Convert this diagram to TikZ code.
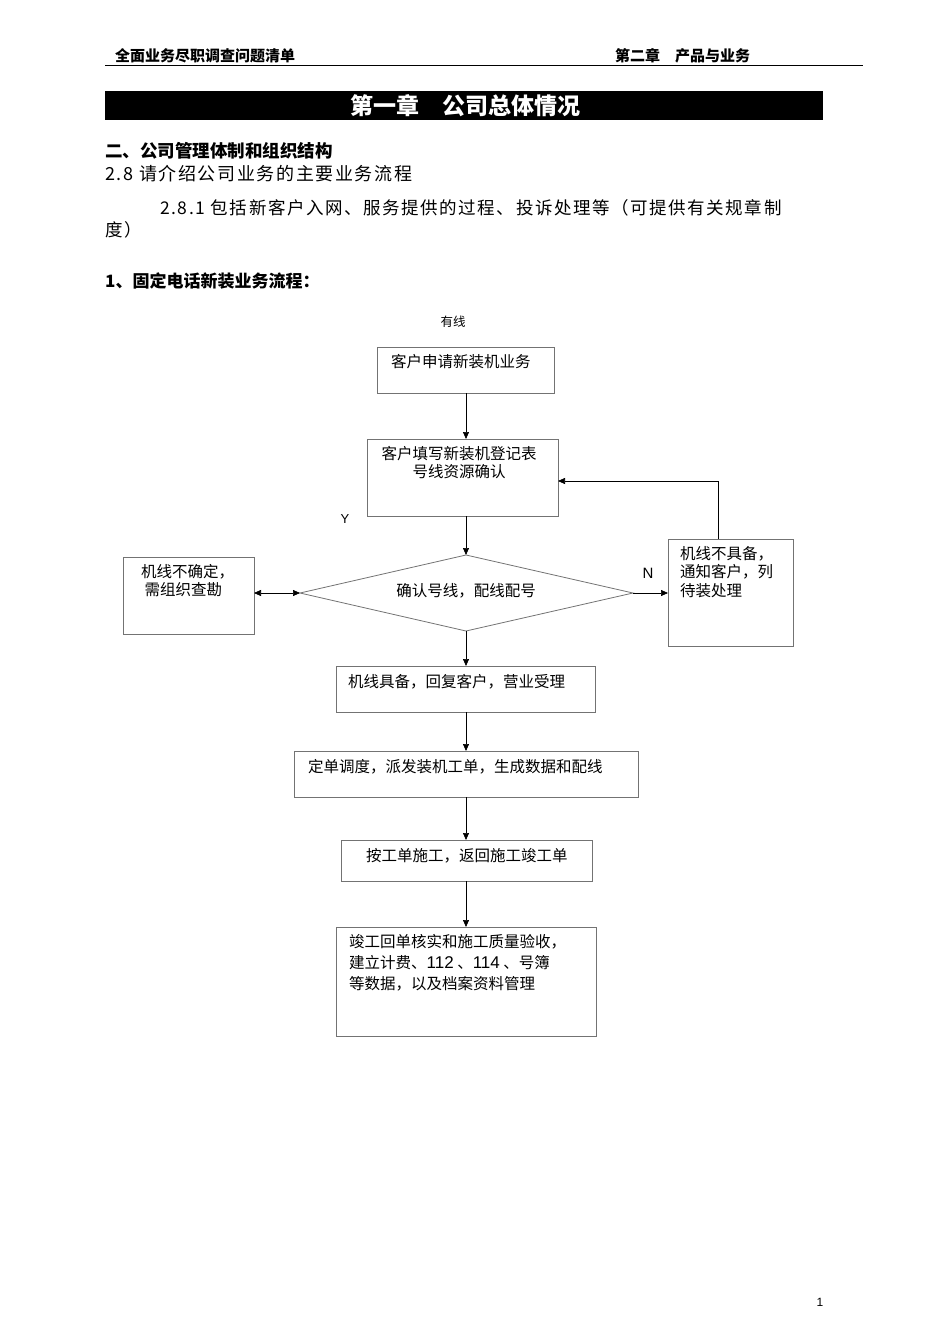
\documentclass[tikz,border=0pt]{standalone}
\usepackage{fontspec}
\setmainfont{Liberation Sans}
\newfontfamily\cjk{Noto Sans CJK SC}
\newfontfamily\cjkwide[LetterSpace=9]{Noto Sans CJK SC}
\usetikzlibrary{arrows.meta}
\begin{document}
\begin{tikzpicture}[x=1pt,y=-1pt,
  boxs/.style={draw=black!55,line width=0.8pt},
  tx/.style={anchor=north west,inner sep=0pt,font=\cjk\fontsize{15.5}{18.5}\selectfont,align=left},
  arr/.style={-{Triangle[length=7pt,width=6pt]},line width=0.7pt}]
\useasboundingbox (0,0) rectangle (950,1344);
% header
\node[anchor=west,inner sep=0] (h1) at (115,56) {\cjk\bfseries\fontsize{15}{17}\selectfont 全面业务尽职调查问题清单};
\node[anchor=west,inner sep=0] (h2) at (615,56) {\cjk\bfseries\fontsize{15}{17}\selectfont 第二章\quad 产品与业务};
\draw[line width=0.7pt] (105,65) -- (863,65);
\fill (105,91) rectangle (823,120);
\node[text=white,inner sep=0] (t) at (465,106) {\cjk\bfseries\fontsize{23}{25}\selectfont 第一章\quad 公司总体情况};
\node[anchor=west,inner sep=0] (s1) at (105,151) {\cjk\bfseries\fontsize{17.5}{20}\selectfont 二、公司管理体制和组织结构};
\node[anchor=west,inner sep=0] (s2) at (105,174) {\cjkwide\fontsize{18}{20}\selectfont 2.8 请介绍公司业务的主要业务流程};
\node[anchor=west,inner sep=0] (s3) at (160,208) {\cjkwide\fontsize{17.5}{20}\selectfont 2.8.1 包括新客户入网、服务提供的过程、投诉处理等（可提供有关规章制};
\node[anchor=west,inner sep=0] (s4) at (105,230) {\cjkwide\fontsize{17.5}{20}\selectfont 度）};
\node[anchor=west,inner sep=0] (s5) at (105,281) {\cjk\bfseries\fontsize{17}{20}\selectfont 1、固定电话新装业务流程：};
\node[inner sep=0] (yx) at (453,322) {\cjk\fontsize{12.5}{14}\selectfont 有线};
% boxes
\draw[boxs] (377,347) rectangle (554,393);
\node[tx] (t1) at (391,354) {客户申请新装机业务};
\draw[boxs] (367,439) rectangle (558,516);
\node[tx,align=center,anchor=north] (t2) at (459,446) {客户填写新装机登记表\\号线资源确认};
\node[inner sep=0] (Y) at (345,519) {\fontsize{13}{15}\selectfont Y};
\draw[boxs] (300,593) -- (466,555) -- (633,593) -- (466,631) -- cycle;
\node[inner sep=0] (t3) at (466,591) {\cjk\fontsize{15.5}{18}\selectfont 确认号线，配线配号};
\draw[boxs] (123,557) rectangle (254,634);
\node[tx] (t4) at (141,564) {机线不确定，\\\ 需组织查勘};
\node[inner sep=0] (N) at (648,573) {\fontsize{15}{17}\selectfont N};
\draw[boxs] (668,539) rectangle (793,646);
\node[tx] (t5) at (680,546) {机线不具备，\\通知客户，列\\待装处理};
\draw[boxs] (336,666) rectangle (595,712);
\node[tx] (t6) at (348,674) {机线具备，回复客户，营业受理};
\draw[boxs] (294,751) rectangle (638,797);
\node[tx] (t7) at (308,759) {定单调度，派发装机工单，生成数据和配线};
\draw[boxs] (341,840) rectangle (592,881);
\node[tx] (t8) at (366,848) {按工单施工，返回施工竣工单};
\draw[boxs] (336,927) rectangle (596,1036);
\node[tx,font=\cjk\fontsize{15.5}{21}\selectfont] (t9) at (349,934) {竣工回单核实和施工质量验收，\\建立计费、{\fontsize{17}{18}\selectfont\rmfamily 112} 、{\fontsize{17}{18}\selectfont\rmfamily 114} 、号簿\\等数据，以及档案资料管理};
% arrows
\draw[arr] (466,393) -- (466,439);
\draw[arr] (466,516) -- (466,555);
\draw[arr] (466,631) -- (466,666);
\draw[arr] (466,712) -- (466,751);
\draw[arr] (466,797) -- (466,840);
\draw[arr] (466,881) -- (466,927);
\draw[arr,{Triangle[length=7pt,width=6pt]}-{Triangle[length=7pt,width=6pt]}] (254,593) -- (300,593);
\draw[arr] (633,593) -- (668,593);
\draw[line width=0.7pt,-{Triangle[length=7pt,width=6pt]}] (718,539) -- (718,481) -- (558,481);
\node[inner sep=0] (pg) at (820,1302) {\fontsize{12}{14}\selectfont 1};
\end{tikzpicture}
\end{document}
